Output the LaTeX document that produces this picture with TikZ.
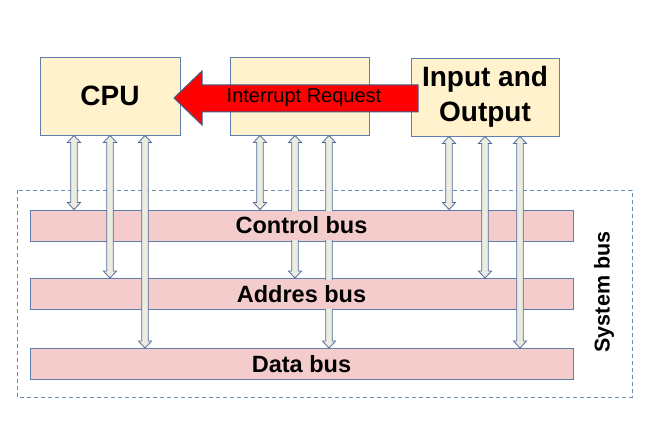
\documentclass[tikz,border=0pt]{standalone}
\usepackage{fontspec}
\setmainfont{Liberation Sans}
\usetikzlibrary{calc}
\definecolor{boxfill}{HTML}{FFF2CC}
\definecolor{boxline}{HTML}{5F7DAD}
\definecolor{barfill}{HTML}{F4CCCC}
\definecolor{arrfill}{HTML}{EEECE1}
\definecolor{arrline}{HTML}{4F6D9E}
\definecolor{dashline}{HTML}{6D8AB0}
\definecolor{irqline}{HTML}{41608F}
\tikzset{
  unitbox/.style={rectangle, draw=boxline, fill=boxfill, line width=0.9pt, minimum height=78pt, font=\fontsize{28}{35}\selectfont\bfseries, align=center, inner sep=0pt},
  busbar/.style={rectangle, draw=boxline, fill=barfill, line width=0.9pt, minimum width=543pt, minimum height=31pt, inner sep=0pt},
  buslabel/.style={rectangle, fill=barfill, minimum height=29pt, inner xsep=4pt, inner ysep=0pt, font=\fontsize{23.5}{25}\selectfont\bfseries},
  busarrowstyle/.style={draw=arrline, fill=arrfill, line width=0.8pt, line join=miter},
  irqarrow/.style={draw=irqline, fill=red, line width=1pt},
}
\newcommand{\busarrow}[3]{%
  \draw[busarrowstyle] let \p1=(#2.south), \p2=(#3.north), \p3=(#1,0) in
    (\x3,\y1) -- (\x3+6.5pt,\y1-7pt) -- (\x3+3.2pt,\y1-7pt) -- (\x3+3.2pt,\y2+7pt)
    -- (\x3+6.5pt,\y2+7pt) -- (\x3,\y2) -- (\x3-6.5pt,\y2+7pt) -- (\x3-3.2pt,\y2+7pt)
    -- (\x3-3.2pt,\y1-7pt) -- (\x3-6.5pt,\y1-7pt) -- cycle;}
\begin{document}
\begin{tikzpicture}[x=1pt,y=-1pt]
\useasboundingbox[fill=white] (0,0) rectangle (658,441);
% system bus frame
\draw[dashline, dashed, dash pattern=on 4pt off 3pt, line width=0.7pt] (17,190) rectangle (632,397);
\node[rotate=90, font=\fontsize{21.5}{24}\selectfont\bfseries] (sysbus) at (604,292) {System bus};
% units
\node[unitbox, minimum width=140pt] (cpu) at (110,96) {CPU};
\node[unitbox, minimum width=139pt] (mid) at (299.5,96) {};
\node[unitbox, minimum width=148pt] (io) at (485,97) {Input and\\Output};
% buses
\node[busbar] (ctrl) at (301.5,225.5) {};
\node[busbar] (addr) at (301.5,294) {};
\node[busbar] (data) at (301.5,364) {};
% bus arrows
\busarrow{74}{cpu}{ctrl}
\busarrow{110}{cpu}{addr}
\busarrow{145}{cpu}{data}
\busarrow{260}{mid}{ctrl}
\busarrow{295}{mid}{addr}
\busarrow{329}{mid}{data}
\busarrow{449}{io}{ctrl}
\busarrow{485}{io}{addr}
\busarrow{520}{io}{data}
% bus labels
\node[buslabel] (ctrllbl) at (ctrl) {Control bus};
\node[buslabel] (addrlbl) at (addr) {Addres bus};
\node[buslabel] (datalbl) at (data) {Data bus};
% interrupt request arrow
\coordinate (irqtip) at (174,98);
\coordinate (irqtail) at (418,98);
\draw[irqarrow] (irqtip) -- (202,71) -- (202,85) -- (irqtail |- 0,85) -- (irqtail |- 0,112) -- (202,112) -- (202,125) -- cycle;
\node[font=\fontsize{20}{22}\selectfont] (irq) at (304,98) {Interrupt Request};
\end{tikzpicture}
\end{document}
